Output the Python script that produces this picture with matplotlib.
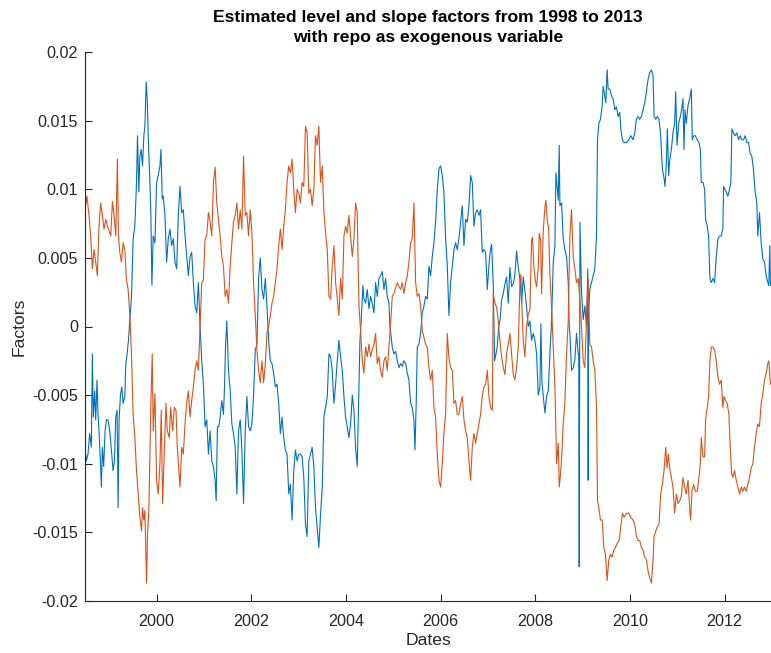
import numpy as np
import matplotlib
matplotlib.use("Agg")
import matplotlib.pyplot as plt

# ---------------------------------------------------------------
# Estimated factors (values in thousandths), dates as decimal years
# ---------------------------------------------------------------
level_dates = [
    1998.488, 1998.516, 1998.551, 1998.587, 1998.622, 1998.643, 1998.664, 1998.693, 1998.714, 1998.742,
    1998.763, 1998.784, 1998.813, 1998.834, 1998.855, 1998.883, 1998.912, 1998.940, 1998.975, 1999.011,
    1999.046, 1999.081, 1999.110, 1999.138, 1999.166, 1999.187, 1999.208, 1999.237, 1999.265, 1999.293,
    1999.329, 1999.350, 1999.378, 1999.406, 1999.435, 1999.470, 1999.505, 1999.541, 1999.576, 1999.597,
    1999.625, 1999.647, 1999.675, 1999.703, 1999.731, 1999.753, 1999.781, 1999.802, 1999.830, 1999.859,
    1999.880, 1999.901, 1999.929, 1999.965, 2000.000, 2000.035, 2000.071, 2000.092, 2000.120, 2000.141,
    2000.177, 2000.212, 2000.247, 2000.283, 2000.318, 2000.353, 2000.389, 2000.424, 2000.459, 2000.495,
    2000.530, 2000.565, 2000.601, 2000.636, 2000.671, 2000.707, 2000.742, 2000.777, 2000.813, 2000.848,
    2000.883, 2000.919, 2000.954, 2000.989, 2001.025, 2001.060, 2001.095, 2001.131, 2001.166, 2001.201,
    2001.237, 2001.258, 2001.286, 2001.314, 2001.343, 2001.378, 2001.413, 2001.435, 2001.456, 2001.484,
    2001.519, 2001.555, 2001.590, 2001.625, 2001.661, 2001.696, 2001.731, 2001.767, 2001.802, 2001.837,
    2001.873, 2001.908, 2001.943, 2001.979, 2002.014, 2002.049, 2002.085, 2002.120, 2002.155, 2002.191,
    2002.226, 2002.261, 2002.297, 2002.332, 2002.367, 2002.403, 2002.438, 2002.473, 2002.509, 2002.544,
    2002.580, 2002.615, 2002.650, 2002.686, 2002.721, 2002.756, 2002.792, 2002.827, 2002.862, 2002.898,
    2002.933, 2002.968, 2003.004, 2003.039, 2003.074, 2003.110, 2003.145, 2003.180, 2003.216, 2003.251,
    2003.286, 2003.322, 2003.357, 2003.392, 2003.428, 2003.465, 2003.500, 2003.535, 2003.570, 2003.606,
    2003.641, 2003.676, 2003.711, 2003.746, 2003.782, 2003.817, 2003.852, 2003.887, 2003.923, 2003.958,
    2003.993, 2004.028, 2004.063, 2004.099, 2004.134, 2004.169, 2004.204, 2004.239, 2004.275, 2004.296,
    2004.324, 2004.359, 2004.380, 2004.415, 2004.451, 2004.486, 2004.521, 2004.556, 2004.592, 2004.627,
    2004.662, 2004.697, 2004.732, 2004.768, 2004.803, 2004.838, 2004.873, 2004.908, 2004.930, 2004.979,
    2005.014, 2005.049, 2005.085, 2005.120, 2005.155, 2005.190, 2005.225, 2005.261, 2005.296, 2005.331,
    2005.366, 2005.401, 2005.437, 2005.458, 2005.486, 2005.507, 2005.542, 2005.577, 2005.613, 2005.648,
    2005.683, 2005.718, 2005.754, 2005.789, 2005.824, 2005.859, 2005.894, 2005.930, 2005.965, 2006.000,
    2006.035, 2006.070, 2006.106, 2006.141, 2006.176, 2006.211, 2006.246, 2006.282, 2006.317, 2006.352,
    2006.387, 2006.423, 2006.458, 2006.493, 2006.528, 2006.563, 2006.599, 2006.634, 2006.669, 2006.704,
    2006.739, 2006.775, 2006.810, 2006.845, 2006.880, 2006.915, 2006.951, 2006.986, 2007.021, 2007.042,
    2007.077, 2007.112, 2007.141, 2007.169, 2007.197, 2007.225, 2007.253, 2007.288, 2007.324, 2007.359,
    2007.394, 2007.429, 2007.464, 2007.500, 2007.535, 2007.570, 2007.605, 2007.640, 2007.676, 2007.711,
    2007.746, 2007.781, 2007.816, 2007.852, 2007.887, 2007.922, 2007.957, 2007.992, 2008.028, 2008.063,
    2008.098, 2008.119, 2008.140, 2008.169, 2008.204, 2008.239, 2008.274, 2008.309, 2008.344, 2008.380,
    2008.415, 2008.436, 2008.464, 2008.485, 2008.506, 2008.520, 2008.555, 2008.590, 2008.625, 2008.661,
    2008.696, 2008.717, 2008.731, 2008.766, 2008.801, 2008.836, 2008.871, 2008.907, 2008.918, 2008.928,
    2008.936, 2008.944, 2008.977, 2009.012, 2009.047, 2009.082, 2009.110, 2009.117, 2009.125, 2009.152,
    2009.188, 2009.223, 2009.258, 2009.293, 2009.314, 2009.342, 2009.377, 2009.413, 2009.434, 2009.469,
    2009.490, 2009.518, 2009.539, 2009.574, 2009.609, 2009.644, 2009.680, 2009.715, 2009.750, 2009.785,
    2009.806, 2009.841, 2009.876, 2009.926, 2009.975, 2010.017, 2010.066, 2010.101, 2010.136, 2010.171,
    2010.207, 2010.242, 2010.277, 2010.312, 2010.347, 2010.382, 2010.417, 2010.453, 2010.488, 2010.509,
    2010.544, 2010.579, 2010.614, 2010.649, 2010.684, 2010.720, 2010.741, 2010.769, 2010.790, 2010.818,
    2010.839, 2010.874, 2010.909, 2010.944, 2010.966, 2010.994, 2011.029, 2011.064, 2011.092, 2011.120,
    2011.141, 2011.162, 2011.190, 2011.226, 2011.261, 2011.296, 2011.317, 2011.345, 2011.380, 2011.422,
    2011.458, 2011.486, 2011.507, 2011.542, 2011.577, 2011.598, 2011.633, 2011.661, 2011.689, 2011.718,
    2011.753, 2011.788, 2011.823, 2011.858, 2011.893, 2011.928, 2011.963, 2011.978, 2012.006, 2012.034,
    2012.069, 2012.104, 2012.132, 2012.153, 2012.188, 2012.223, 2012.259, 2012.294, 2012.329, 2012.364,
    2012.399, 2012.434, 2012.469, 2012.505, 2012.540, 2012.575, 2012.610, 2012.645, 2012.680, 2012.701,
    2012.736, 2012.772, 2012.807, 2012.842, 2012.877, 2012.912, 2012.933, 2012.954, 2012.968,
]
level_milli = [
    -8.8, -9.8, -9.3, -7.8, -8.8, -2.0, -6.6, -4.7, -6.8, -3.9,
    -6.4, -7.6, -9.8, -11.7, -8.8, -10.2, -7.6, -6.8, -6.8, -7.6,
    -9.0, -10.5, -9.8, -6.6, -6.1, -13.2, -6.8, -5.0, -4.4, -5.6,
    -5.1, -2.7, -2.0, -1.0, 0.4, 2.2, 6.4, 7.3, 10.5, 13.9,
    9.8, 12.4, 12.9, 11.7, 13.9, 14.6, 17.8, 16.6, 13.2, 10.5,
    8.1, 3.0, 6.6, 6.1, 10.5, 11.0, 11.7, 12.9, 9.3, 9.5,
    8.1, 4.7, 6.4, 7.1, 5.9, 6.4, 4.7, 4.2, 8.1, 10.2,
    8.3, 8.5, 6.6, 5.1, 3.7, 5.1, 5.4, 3.2, 1.5, 1.0,
    3.2, 0.0, -2.5, -4.2, -7.3, -6.8, -9.3, -7.6, -9.8, -10.2,
    -11.2, -12.7, -7.3, -7.3, -6.6, -5.4, -6.4, -4.4, -1.5, 0.4,
    -3.2, -4.7, -7.1, -7.8, -8.8, -12.2, -7.6, -6.8, -9.0, -12.9,
    -7.6, -5.1, -7.3, -7.6, -7.1, -5.0, -1.7, -1.3, 3.5, 5.0,
    2.7, 2.0, 3.5, 1.5, -1.0, -2.5, -2.7, -3.4, -4.4, -4.2,
    -5.6, -7.8, -6.6, -8.1, -9.0, -9.3, -12.2, -11.5, -14.1, -10.5,
    -9.0, -9.8, -9.3, -9.3, -9.5, -11.0, -14.4, -15.3, -9.8, -9.3,
    -8.8, -10.2, -13.2, -14.6, -16.1, -13.6, -11.7, -6.6, -5.9, -5.1,
    -2.0, -2.2, -3.2, -5.6, -4.2, -2.5, -1.0, -2.2, -3.2, -5.1,
    -6.6, -7.3, -8.1, -7.1, -5.0, -6.1, -8.8, -10.2, -4.4, -1.0,
    0.5, 3.0, 2.0, 1.7, 2.7, 1.3, 2.2, 1.7, 1.0, 3.2,
    2.2, 3.5, 3.7, 4.0, 2.7, 3.5, 2.2, 1.7, 0.0, -1.5,
    -2.0, -1.8, -2.5, -3.0, -2.7, -2.9, -2.5, -2.7, -3.4, -3.9,
    -5.6, -5.9, -6.8, -9.0, -5.4, -1.5, -1.3, -0.5, 1.0, 1.5,
    2.2, 2.0, 4.4, 3.7, 5.1, 6.1, 7.6, 10.0, 11.5, 11.7,
    11.0, 9.8, 6.4, 4.4, 0.8, 3.2, 4.4, 5.6, 6.1, 5.6,
    6.4, 7.6, 8.8, 5.9, 7.8, 7.6, 8.8, 11.0, 10.5, 7.3,
    8.3, 8.5, 8.1, 8.5, 5.4, 5.6, 5.4, 2.7, 4.4, 5.3,
    6.0, 3.1, -2.5, -2.0, -1.5, 0.0, 0.4, 1.9, 2.4, 3.1,
    3.6, 1.7, 4.3, 2.9, 3.1, 3.8, 5.5, 4.3, 3.4, 1.7,
    3.6, 2.6, 1.4, 0.0, 0.4, -1.0, -0.5, -1.0, -2.0, -5.0,
    -4.4, 0.2, -4.0, -5.1, -6.3, -5.1, -4.7, -2.0, 0.4, 4.7,
    5.9, 11.2, 10.0, 9.2, 13.2, 8.8, 9.0, 6.4, 5.6, 5.1,
    3.2, 0.0, -0.5, -3.2, -3.0, -2.4, -0.5, -2.0, -2.0, -17.5,
    -5.0, 7.6, 2.5, 0.5, 1.5, 0.0, 4.2, -11.2, 1.0, 2.7,
    3.2, 3.7, 4.2, 6.6, 13.6, 14.8, 15.1, 16.1, 17.5, 16.8,
    16.3, 18.7, 17.3, 17.3, 16.8, 16.6, 15.8, 16.0, 15.3, 15.6,
    14.4, 13.6, 13.4, 13.4, 13.6, 13.9, 13.6, 14.1, 15.1, 15.3,
    15.1, 15.3, 15.8, 16.3, 17.1, 18.0, 18.5, 18.7, 18.3, 15.3,
    15.1, 15.3, 15.1, 13.9, 11.5, 10.8, 10.2, 11.9, 14.4, 11.0,
    12.1, 12.9, 14.1, 14.8, 17.1, 13.2, 14.8, 15.3, 15.8, 16.6,
    12.9, 15.8, 14.8, 16.1, 16.6, 17.3, 13.6, 13.9, 13.9, 13.6,
    13.4, 12.9, 10.5, 10.5, 10.0, 7.8, 7.3, 6.6, 3.5, 3.2,
    3.5, 3.2, 5.1, 6.4, 6.6, 6.6, 7.1, 10.2, 10.0, 9.8,
    9.5, 10.0, 10.5, 14.4, 14.1, 13.9, 14.1, 13.6, 13.9, 13.6,
    13.6, 13.9, 13.4, 13.4, 12.6, 12.4, 11.4, 9.8, 9.0, 6.6,
    8.3, 6.1, 4.9, 4.7, 3.7, 3.2, 3.0, 5.9, 3.0,
]

slope_dates = [
    1998.488, 1998.530, 1998.572, 1998.608, 1998.643, 1998.678, 1998.714, 1998.749, 1998.784, 1998.820,
    1998.855, 1998.890, 1998.926, 1998.961, 1998.996, 1999.032, 1999.067, 1999.102, 1999.138, 1999.173,
    1999.194, 1999.223, 1999.258, 1999.293, 1999.329, 1999.364, 1999.399, 1999.435, 1999.470, 1999.505,
    1999.541, 1999.576, 1999.611, 1999.647, 1999.682, 1999.703, 1999.731, 1999.753, 1999.774, 1999.788,
    1999.809, 1999.837, 1999.859, 1999.880, 1999.908, 1999.929, 1999.965, 2000.000, 2000.035, 2000.071,
    2000.099, 2000.127, 2000.155, 2000.198, 2000.226, 2000.269, 2000.297, 2000.339, 2000.375, 2000.410,
    2000.438, 2000.466, 2000.495, 2000.530, 2000.565, 2000.601, 2000.636, 2000.671, 2000.707, 2000.742,
    2000.777, 2000.813, 2000.848, 2000.883, 2000.919, 2000.954, 2000.989, 2001.025, 2001.060, 2001.095,
    2001.131, 2001.166, 2001.201, 2001.237, 2001.272, 2001.343, 2001.378, 2001.413, 2001.449, 2001.484,
    2001.519, 2001.555, 2001.590, 2001.625, 2001.661, 2001.696, 2001.731, 2001.767, 2001.802, 2001.837,
    2001.873, 2001.908, 2001.943, 2001.979, 2002.014, 2002.049, 2002.085, 2002.120, 2002.155, 2002.191,
    2002.226, 2002.261, 2002.297, 2002.332, 2002.367, 2002.403, 2002.438, 2002.473, 2002.509, 2002.544,
    2002.580, 2002.615, 2002.650, 2002.686, 2002.721, 2002.756, 2002.792, 2002.827, 2002.862, 2002.898,
    2002.933, 2002.968, 2003.004, 2003.039, 2003.074, 2003.110, 2003.145, 2003.180, 2003.216, 2003.251,
    2003.286, 2003.322, 2003.357, 2003.392, 2003.428, 2003.463, 2003.500, 2003.535, 2003.570, 2003.606,
    2003.641, 2003.676, 2003.711, 2003.746, 2003.782, 2003.817, 2003.852, 2003.887, 2003.923, 2003.958,
    2003.993, 2004.028, 2004.063, 2004.099, 2004.134, 2004.169, 2004.204, 2004.239, 2004.275, 2004.310,
    2004.345, 2004.380, 2004.415, 2004.451, 2004.486, 2004.521, 2004.556, 2004.592, 2004.627, 2004.662,
    2004.697, 2004.732, 2004.768, 2004.803, 2004.838, 2004.873, 2004.908, 2004.944, 2004.979, 2005.014,
    2005.085, 2005.120, 2005.155, 2005.190, 2005.225, 2005.261, 2005.296, 2005.331, 2005.366, 2005.401,
    2005.437, 2005.472, 2005.507, 2005.542, 2005.577, 2005.613, 2005.648, 2005.683, 2005.718, 2005.754,
    2005.789, 2005.824, 2005.859, 2005.894, 2005.930, 2005.965, 2006.000, 2006.035, 2006.070, 2006.106,
    2006.141, 2006.176, 2006.211, 2006.246, 2006.282, 2006.317, 2006.352, 2006.387, 2006.423, 2006.458,
    2006.493, 2006.528, 2006.563, 2006.599, 2006.634, 2006.669, 2006.704, 2006.739, 2006.775, 2006.810,
    2006.845, 2006.880, 2006.915, 2006.951, 2006.986, 2007.021, 2007.056, 2007.092, 2007.112, 2007.148,
    2007.183, 2007.218, 2007.253, 2007.288, 2007.324, 2007.359, 2007.394, 2007.429, 2007.464, 2007.500,
    2007.535, 2007.570, 2007.605, 2007.640, 2007.676, 2007.697, 2007.718, 2007.746, 2007.781, 2007.816,
    2007.852, 2007.887, 2007.922, 2007.943, 2007.971, 2007.999, 2008.028, 2008.063, 2008.084, 2008.112,
    2008.133, 2008.168, 2008.204, 2008.225, 2008.253, 2008.281, 2008.309, 2008.344, 2008.380, 2008.415,
    2008.450, 2008.485, 2008.506, 2008.534, 2008.562, 2008.590, 2008.625, 2008.661, 2008.696, 2008.731,
    2008.766, 2008.801, 2008.836, 2008.871, 2008.907, 2008.942, 2008.977, 2009.012, 2009.047, 2009.082,
    2009.117, 2009.138, 2009.152, 2009.188, 2009.223, 2009.258, 2009.293, 2009.314, 2009.342, 2009.377,
    2009.413, 2009.448, 2009.483, 2009.518, 2009.553, 2009.588, 2009.623, 2009.658, 2009.694, 2009.729,
    2009.771, 2009.806, 2009.841, 2009.876, 2009.926, 2009.975, 2010.017, 2010.066, 2010.101, 2010.136,
    2010.171, 2010.207, 2010.242, 2010.277, 2010.312, 2010.347, 2010.382, 2010.417, 2010.453, 2010.488,
    2010.509, 2010.544, 2010.579, 2010.614, 2010.649, 2010.684, 2010.720, 2010.755, 2010.783, 2010.811,
    2010.839, 2010.874, 2010.909, 2010.944, 2010.980, 2011.015, 2011.050, 2011.085, 2011.120, 2011.155,
    2011.190, 2011.226, 2011.261, 2011.282, 2011.310, 2011.345, 2011.380, 2011.422, 2011.458, 2011.486,
    2011.507, 2011.542, 2011.577, 2011.598, 2011.633, 2011.661, 2011.689, 2011.718, 2011.753, 2011.788,
    2011.823, 2011.858, 2011.893, 2011.928, 2011.963, 2011.985, 2012.020, 2012.055, 2012.090, 2012.118,
    2012.146, 2012.174, 2012.209, 2012.245, 2012.280, 2012.315, 2012.350, 2012.385, 2012.420, 2012.455,
    2012.491, 2012.526, 2012.561, 2012.596, 2012.631, 2012.666, 2012.701, 2012.736, 2012.772, 2012.807,
    2012.842, 2012.877, 2012.912, 2012.933, 2012.968,
]
slope_milli = [
    8.5, 9.5, 8.1, 6.6, 4.2, 5.6, 4.7, 3.7, 7.3, 9.0,
    8.1, 7.1, 7.8, 7.3, 7.0, 6.6, 9.1, 8.1, 6.6, 12.2,
    6.6, 5.4, 4.7, 6.1, 5.6, 3.4, 2.7, 0.8, -2.0, -6.4,
    -8.1, -10.5, -12.2, -13.9, -14.9, -13.2, -14.1, -13.4, -16.6, -18.7,
    -15.1, -13.4, -9.3, -5.6, -2.0, -7.6, -4.9, -11.2, -12.2, -10.0,
    -6.1, -12.9, -10.0, -5.6, -7.6, -8.1, -5.9, -7.6, -5.9, -6.1,
    -8.8, -10.2, -11.7, -8.8, -9.3, -7.1, -5.6, -4.7, -6.6, -5.4,
    -4.4, -3.2, -2.5, -3.2, 0.0, 3.2, 3.4, 6.4, 6.6, 8.3,
    7.6, 6.6, 10.5, 11.6, 9.0, 6.6, 5.1, 4.4, 2.2, 2.7,
    1.7, 4.4, 6.1, 7.6, 8.1, 9.0, 7.1, 8.5, 7.1, 12.4,
    8.1, 8.3, 6.6, 8.5, 6.8, 3.2, 0.8, -1.7, -3.2, -4.1,
    -2.5, -4.1, -2.7, -0.5, 0.0, 0.8, 1.7, 2.2, 3.2, 4.2,
    5.9, 7.1, 5.6, 7.3, 8.5, 10.5, 11.7, 11.2, 12.2, 10.0,
    8.3, 10.0, 9.7, 9.0, 10.5, 10.2, 14.6, 14.1, 9.7, 10.0,
    8.8, 10.0, 13.9, 13.2, 14.6, 10.5, 11.7, 8.3, 6.8, 5.6,
    2.2, 2.0, 4.4, 5.9, 3.2, 2.0, 0.8, 3.5, 2.0, 6.6,
    7.3, 6.8, 8.1, 6.6, 5.1, 6.4, 9.0, 8.3, 1.5, -0.3,
    -2.5, -3.4, -1.5, -2.2, -1.3, -2.2, -1.7, -1.3, -0.5, -2.7,
    -2.2, -3.2, -3.7, -2.5, -2.2, -3.2, -1.5, 0.2, 2.2, 2.4,
    3.2, 2.9, 2.7, 3.2, 2.4, 3.2, 3.7, 4.7, 6.1, 6.4,
    9.0, 3.2, 2.2, 2.4, 1.5, -0.3, -0.8, -1.3, -1.5, -3.0,
    -3.9, -3.2, -5.9, -6.6, -9.3, -11.2, -11.7, -10.0, -7.8, -6.4,
    -0.5, -2.3, -3.0, -3.2, -5.6, -5.4, -6.4, -6.4, -5.6, -5.1,
    -6.8, -7.6, -8.1, -9.8, -11.2, -8.8, -7.8, -8.5, -7.8, -7.1,
    -6.4, -5.1, -4.4, -4.2, -3.2, -5.1, -5.9, -6.1, 2.4, 1.7,
    1.4, 0.4, -1.0, -2.2, -3.0, -3.5, -2.0, -1.3, -0.5, -2.0,
    -3.5, -3.9, -3.0, -1.5, 3.1, 3.8, 1.4, -1.0, -2.2, 0.0,
    0.9, 1.2, 6.3, 6.5, 4.3, 3.4, 2.9, 4.3, 6.8, 6.3,
    2.4, 7.0, 8.7, 9.2, 7.7, 7.2, 3.8, 1.4, -1.5, -4.4,
    -10.0, -8.5, -11.7, -10.7, -9.3, -7.1, -5.6, -2.0, 0.4, 6.6,
    8.5, 5.1, 4.2, 3.2, 3.5, 2.0, 0.0, -2.5, -3.0, 0.5,
    3.5, 0.8, -1.3, -1.5, -2.5, -3.2, -5.9, -12.7, -13.2, -14.1,
    -14.1, -16.1, -16.6, -18.5, -17.0, -16.6, -16.8, -16.3, -16.1, -15.8,
    -15.6, -14.6, -13.6, -13.9, -13.6, -13.6, -13.9, -14.1, -14.4, -15.3,
    -15.6, -15.6, -16.1, -16.3, -16.8, -17.0, -17.8, -18.3, -18.7, -17.0,
    -15.3, -14.9, -14.6, -14.4, -12.2, -11.5, -10.5, -8.8, -10.3, -9.3,
    -10.3, -11.0, -11.7, -13.6, -12.2, -12.9, -12.7, -12.4, -11.0, -11.7,
    -12.2, -11.2, -13.2, -14.1, -12.0, -11.5, -12.0, -12.0, -11.0, -10.0,
    -8.1, -9.5, -9.5, -6.8, -5.9, -5.1, -2.5, -1.5, -1.5, -1.7,
    -2.5, -3.7, -4.2, -3.9, -5.9, -5.1, -5.4, -5.6, -6.4, -8.8,
    -10.7, -11.0, -10.5, -11.2, -11.7, -12.2, -11.7, -12.0, -11.7, -12.0,
    -11.5, -11.0, -10.3, -10.0, -8.8, -7.8, -7.1, -7.3, -5.6, -4.9,
    -3.9, -3.4, -2.7, -2.5, -4.2,
]

ytick_values = [-0.02, -0.015, -0.01, -0.005, 0, 0.005, 0.01, 0.015, 0.02]
ytick_labels = ["-0.02", "-0.015", "-0.01", "-0.005", "0", "0.005", "0.01", "0.015", "0.02"]
xtick_years = [2000, 2002, 2004, 2006, 2008, 2010, 2012]

title_text = "Estimated level and slope factors from 1998 to 2013\nwith repo as exogenous variable"

level = np.array(level_milli) / 1000.0
slope = np.array(slope_milli) / 1000.0

plt.rcParams["font.family"] = ["Liberation Sans", "DejaVu Sans"]

W, H = 771, 653
fig = plt.figure(figsize=(W / 100, H / 100), dpi=100)
fig.patch.set_facecolor("white")

left_px, right_px, top_px, bottom_px = 85, 771.5, 52, 601
ax = fig.add_axes([left_px / W, (H - bottom_px) / H,
                   (right_px - left_px) / W, (bottom_px - top_px) / H])

ax.plot(level_dates, level, color="#0072BD", lw=0.8)
ax.plot(slope_dates, slope, color="#D95319", lw=0.8)

ax.set_xlim(1998.488, 2012.99)
ax.set_ylim(-0.02, 0.02)

ax.set_yticks(ytick_values)
ax.set_yticklabels(ytick_labels)
ax.set_xticks(xtick_years)
ax.set_xticklabels([str(y) for y in xtick_years])

axis_color = "#262626"
for side in ("top", "right"):
    ax.spines[side].set_visible(False)
for side in ("left", "bottom"):
    ax.spines[side].set_color(axis_color)
    ax.spines[side].set_linewidth(0.8)

ax.tick_params(direction="in", length=5, width=0.8, colors=axis_color,
               labelsize=11.6)
ax.tick_params(axis="x", pad=9)
ax.tick_params(axis="y", pad=5)

ax.set_xlabel("Dates", fontsize=12.6, color=axis_color, labelpad=3)
ax.set_ylabel("Factors", fontsize=12.6, color=axis_color, labelpad=4)
ax.set_title(title_text, fontsize=12.6, fontweight="bold", color="black",
             linespacing=1.4, pad=7)

fig.savefig("out.png", dpi=100, facecolor="white")
